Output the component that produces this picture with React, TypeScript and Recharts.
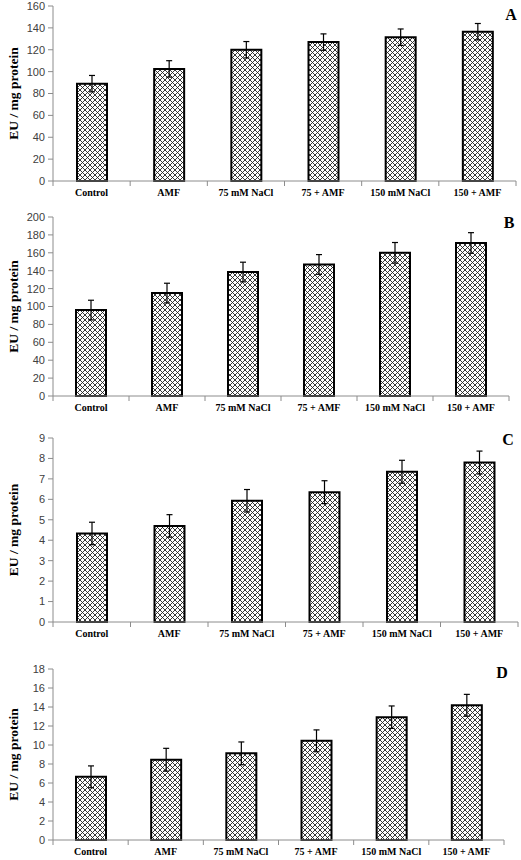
import React from 'react'
import { BarChart, Bar, XAxis, YAxis, ErrorBar } from 'recharts'

const CATEGORIES = ['Control', 'AMF', '75 mM NaCl', '75 + AMF', '150 mM NaCl', '150 + AMF']

const A_VALUES = [89, 102.5, 120, 127, 131.5, 136.5]
const A_ERRORS = [7.5, 7.5, 7.5, 7.5, 7.5, 7.5]
const A_TICKS = [0, 20, 40, 60, 80, 100, 120, 140, 160]

const B_VALUES = [96, 115, 138.5, 147, 160, 171]
const B_ERRORS = [11, 11, 11, 11, 11.5, 11.5]
const B_TICKS = [0, 20, 40, 60, 80, 100, 120, 140, 160, 180, 200]

const C_VALUES = [4.33, 4.7, 5.93, 6.35, 7.35, 7.8]
const C_ERRORS = [0.55, 0.55, 0.55, 0.56, 0.56, 0.56]
const C_TICKS = [0, 1, 2, 3, 4, 5, 6, 7, 8, 9]

const D_VALUES = [6.65, 8.45, 9.12, 10.44, 12.93, 14.18]
const D_ERRORS = [1.15, 1.2, 1.2, 1.15, 1.18, 1.15]
const D_TICKS = [0, 2, 4, 6, 8, 10, 12, 14, 16, 18]

const AXIS_GREY = '#8c8c8c'
const SERIF = '"Liberation Serif", "Times New Roman", serif'
const SANS = '"Liberation Sans", Arial, sans-serif'
const LABEL_GAP = 8

interface PanelProps {
  id: string
  letter: string
  values: number[]
  errors: number[]
  ticks: number[]
  top: number
  height: number
  margin: { top: number; right: number; left: number; bottom: number }
  xHeight: number
  letterPos: { x: number; y: number }
}

const YLabel = ({ viewBox }: any) => {
  const cx = 13
  const cy = viewBox.y + viewBox.height / 2
  return (
    <text
      x={cx}
      y={cy}
      transform={`rotate(-90 ${cx} ${cy})`}
      textAnchor="middle"
      dominantBaseline="central"
      fontFamily={SERIF}
      fontWeight="bold"
      fontSize={13.5}
      fill="#000"
    >
      EU / mg protein
    </text>
  )
}

// category label + Excel-style tick marks on the category boundaries
const CategoryTick = ({ x, y, payload, index, visibleTicksCount }: any) => {
  const half = payload.offset || 0
  const axisY = y - LABEL_GAP
  return (
    <g>
      <line x1={x - half} x2={x - half} y1={axisY} y2={axisY + 5} stroke={AXIS_GREY} />
      {index === visibleTicksCount - 1 && (
        <line x1={x + half} x2={x + half} y1={axisY} y2={axisY + 5} stroke={AXIS_GREY} />
      )}
      <text
        x={x}
        y={y}
        dy="0.71em"
        textAnchor="middle"
        fontFamily={SERIF}
        fontWeight="bold"
        fontSize={10}
        fill="#000"
      >
        {payload.value}
      </text>
    </g>
  )
}

const Panel: React.FC<PanelProps> = ({ id, letter, values, errors, ticks, top, height, margin, xHeight, letterPos }) => {
  const data = CATEGORIES.map((name, i) => ({ name, value: values[i], err: errors[i] }))
  const max = ticks[ticks.length - 1]
  return (
    <div style={{ position: 'absolute', left: 0, top, width: 521, height }}>
      <BarChart width={521} height={height} data={data} margin={margin}>
        <defs>
          <pattern id={`hatch-${id}`} width={5} height={5} patternUnits="userSpaceOnUse">
            <rect width={5} height={5} fill="#fff" />
            <path d="M0,0 L5,5 M5,0 L0,5" stroke="#222" strokeWidth={0.9} />
          </pattern>
        </defs>
        <XAxis
          dataKey="name"
          height={xHeight}
          stroke={AXIS_GREY}
          tickLine={false}
          tickSize={0}
          tickMargin={LABEL_GAP}
          interval={0}
          tick={<CategoryTick />}
        />
        <YAxis
          width={53}
          domain={[0, max]}
          ticks={ticks}
          interval={0}
          tickSize={5}
          tickMargin={3}
          stroke={AXIS_GREY}
          tick={{ fontFamily: SANS, fontSize: 11, fill: '#404040' }}
          label={<YLabel />}
        />
        <Bar
          dataKey="value"
          barSize={30}
          fill={`url(#hatch-${id})`}
          stroke="#000"
          strokeWidth={2}
          isAnimationActive={false}
        >
          <ErrorBar dataKey="err" width={3} stroke="#000" strokeWidth={1.2} />
        </Bar>
      </BarChart>
      <div
        style={{
          position: 'absolute',
          left: letterPos.x - 10,
          top: letterPos.y,
          width: 20,
          textAlign: 'center',
          fontFamily: SERIF,
          fontWeight: 'bold',
          fontSize: 16,
          lineHeight: '16px',
          color: '#000',
        }}
      >
        {letter}
      </div>
    </div>
  )
}

export default function App() {
  return (
    <div style={{ position: 'absolute', left: 0, top: 0, width: 521, height: 860, background: '#fff' }}>
      <Panel
        id="a"
        letter="A"
        values={A_VALUES}
        errors={A_ERRORS}
        ticks={A_TICKS}
        top={0}
        height={210}
        margin={{ top: 6, right: 5, left: 0, bottom: 0 }}
        xHeight={29}
        letterPos={{ x: 511, y: 7 }}
      />
      <Panel
        id="b"
        letter="B"
        values={B_VALUES}
        errors={B_ERRORS}
        ticks={B_TICKS}
        top={210}
        height={210}
        margin={{ top: 7, right: 12, left: 0, bottom: 0 }}
        xHeight={24}
        letterPos={{ x: 509, y: 5 }}
      />
      <Panel
        id="c"
        letter="C"
        values={C_VALUES}
        errors={C_ERRORS}
        ticks={C_TICKS}
        top={420}
        height={225}
        margin={{ top: 18, right: 3, left: 0, bottom: 0 }}
        xHeight={23}
        letterPos={{ x: 508, y: 12 }}
      />
      <Panel
        id="d"
        letter="D"
        values={D_VALUES}
        errors={D_ERRORS}
        ticks={D_TICKS}
        top={645}
        height={215}
        margin={{ top: 24, right: 17, left: 0, bottom: 0 }}
        xHeight={20}
        letterPos={{ x: 502, y: 20 }}
      />
    </div>
  )
}
